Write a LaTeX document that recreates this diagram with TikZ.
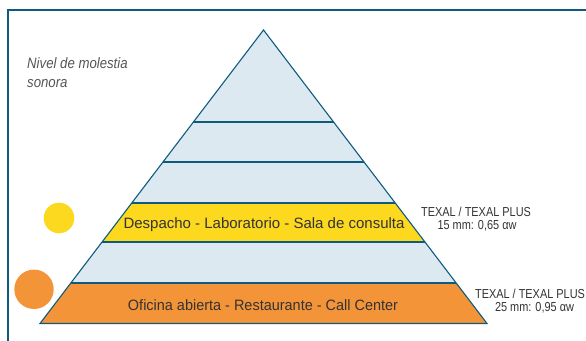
\documentclass[tikz,border=0pt]{standalone}
\usepackage{fontspec}
\setmainfont{Liberation Sans}
\newfontfamily\condY[FakeStretch=1.0]{Liberation Sans}
\newfontfamily\condO[FakeStretch=0.964]{Liberation Sans}
\newfontfamily\condB[FakeStretch=0.84]{Liberation Sans}
\newfontfamily\condC[FakeStretch=0.88]{Liberation Sans}
\usetikzlibrary{calc}
\definecolor{frameblue}{HTML}{0E5B7E}
\definecolor{pyrblue}{HTML}{DDE9F1}
\definecolor{bandyellow}{HTML}{FCD81F}
\definecolor{bandorange}{HTML}{F39439}
\definecolor{txtdark}{HTML}{333333}
\definecolor{txtgray}{HTML}{555555}
\tikzset{
  pyrline/.style={draw=frameblue, line width=1.1pt},
  bandtext/.style={inner sep=0pt, anchor=base, text=txtdark},
  sidelabel/.style={inner sep=0pt, anchor=base, text=txtdark, font=\condB\fontsize{13}{15}\selectfont},
  dot/.style={circle, inner sep=0pt, draw=none}
}
\begin{document}
\begin{tikzpicture}[x=1pt,y=1pt]
\useasboundingbox (0,0) rectangle (586,340);
% frame
\draw[frameblue, line width=2pt] (8,-2) -- (8,330) -- (590,330);
% pyramid corners
\coordinate (A) at (263.5,310);
\coordinate (BL) at (40,16.5);
\coordinate (BR) at (487,16.5);
\foreach \n/\t in {1/0.3135,2/0.4497,3/0.5894,4/0.7223,5/0.8620}{
  \coordinate (L\n) at ($(A)!\t!(BL)$);
  \coordinate (R\n) at ($(A)!\t!(BR)$);
}
\fill[pyrblue] (A) -- (BL) -- (BR) -- cycle;
\fill[bandyellow] (L3) -- (R3) -- (R4) -- (L4) -- cycle;
\fill[bandorange] (L5) -- (R5) -- (BR) -- (BL) -- cycle;
\foreach \n in {1,...,5}{ \draw[pyrline] (L\n) -- (R\n); }
\draw[pyrline, line join=miter] (A) -- (BL) -- (BR) -- cycle;
% circles
\node[dot, fill=bandyellow, minimum size=30.6pt] (cy) at (59,122) {};
\node[dot, fill=bandorange, minimum size=39.4pt] (co) at (34,50.7) {};
% texts
\node[inner sep=0pt, anchor=base west, text=txtgray, font=\condC\itshape\fontsize{15}{18}\selectfont] (n1) at (27,271.7) {Nivel de molestia};
\node[inner sep=0pt, anchor=base west, text=txtgray, font=\condC\itshape\fontsize{15}{18}\selectfont] (n2) at (27,252) {sonora};
\node[bandtext, font=\condY\fontsize{15}{18}\selectfont] (ty) at (264,111.5) {Despacho - Laboratorio - Sala de consulta};
\node[bandtext, font=\condO\fontsize{15}{18}\selectfont] (to) at (263,29.5) {Oficina abierta - Restaurante - Call Center};
\node[sidelabel] (s1a) at (476,123.3) {TEXAL / TEXAL PLUS};
\node[sidelabel] (s1b) at (477,110) {15 mm: 0,65 αw};
\node[sidelabel] (s2a) at (530,41.3) {TEXAL / TEXAL PLUS};
\node[sidelabel] (s2b) at (534.5,28.7) {25 mm: 0,95 αw};
\end{tikzpicture}
\end{document}
